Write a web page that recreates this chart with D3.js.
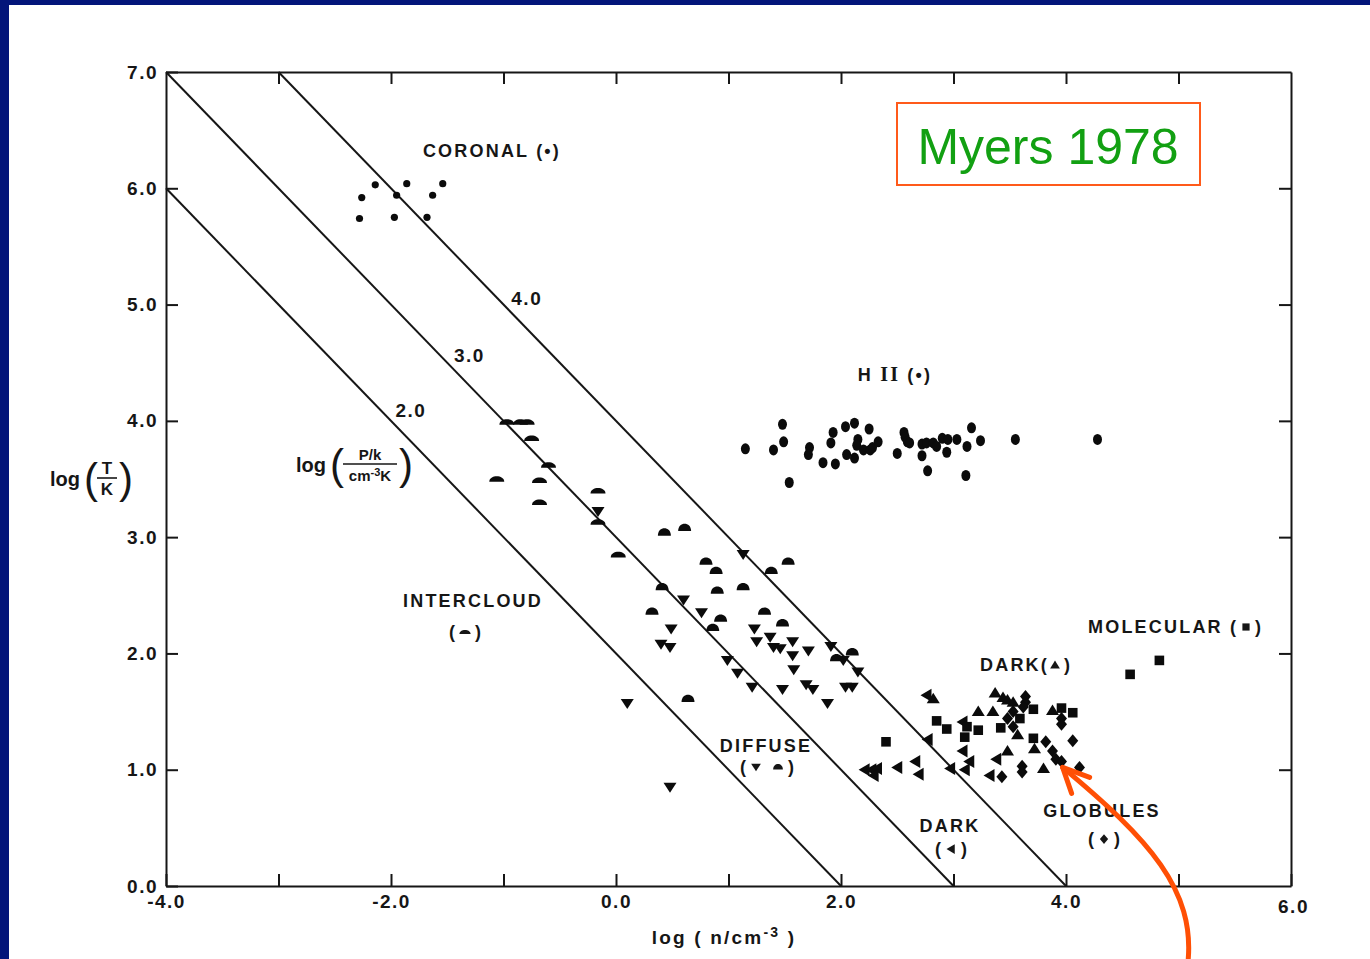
<!DOCTYPE html>
<html>
<head>
<meta charset="utf-8">
<script src="https://cdn.jsdelivr.net/npm/d3@7"></script>
<style>
  html, body { margin: 0; padding: 0; background: #fff; }
  svg { display: block; }
</style>
</head>
<body>
<svg id="chart" width="1370" height="959"></svg>
<script>
// log(n / cm^-3) and log(T / K) for each class of interstellar gas
const coronalN = [-2.14, -2.26, -2.28, -1.95, -1.97, -1.86, -1.63, -1.54, -1.68];
const coronalT = [6.03, 5.92, 5.74, 5.94, 5.75, 6.04, 5.94, 6.04, 5.75];

const hiiN = [1.15, 1.40, 1.48, 1.49, 1.54, 1.72, 1.71, 1.84, 1.95, 1.93, 1.91, 2.04, 2.12, 2.05, 2.12,
              2.15, 2.14, 2.20, 2.25, 2.26, 2.28, 2.33, 2.50, 2.56, 2.57, 2.59, 2.61, 2.72, 2.72, 2.76,
              2.77, 2.82, 2.85, 2.90, 2.94, 2.95, 3.03, 3.12, 3.16, 3.11, 3.24, 3.55, 4.28];
const hiiT = [3.76, 3.75, 3.97, 3.82, 3.47, 3.77, 3.71, 3.64, 3.63, 3.90, 3.81, 3.95, 3.98, 3.71, 3.68,
              3.84, 3.79, 3.75, 3.93, 3.75, 3.77, 3.82, 3.72, 3.90, 3.86, 3.82, 3.81, 3.80, 3.70, 3.81,
              3.57, 3.81, 3.78, 3.85, 3.73, 3.84, 3.84, 3.78, 3.94, 3.53, 3.83, 3.84, 3.84];

const intercloudN = [-0.97, -0.85, -0.79, -0.75, -0.60, -1.06, -0.68, -0.68, -0.16, -0.16, 0.02];
const intercloudT = [3.99, 3.99, 3.99, 3.85, 3.62, 3.50, 3.49, 3.30, 3.40, 3.13, 2.85];

const diffuseDomeN = [0.43, 0.61, 0.41, 0.32, 0.80, 0.89, 0.90, 0.93, 0.86, 1.13, 1.38, 1.53, 1.32, 1.48, 1.96, 2.10, 0.64];
const diffuseDomeT = [3.04, 3.08, 2.57, 2.36, 2.79, 2.71, 2.54, 2.30, 2.22, 2.57, 2.71, 2.79, 2.36, 2.26, 1.96, 2.01, 1.61];

const diffuseTriN = [0.60, 0.76, 0.49, 0.40, 0.48, 0.99, 1.08, 1.21, 1.48, 1.23, 1.25, 1.37, 1.40, 1.46, 1.57,
                     1.57, 1.58, 1.71, 1.69, 1.75, 1.88, 1.91, 2.02, 2.15, 2.04, 2.10, 0.10, 0.48, -0.16, 1.13];
const diffuseTriT = [2.46, 2.35, 2.21, 2.08, 2.05, 1.94, 1.83, 1.71, 1.69, 2.21, 2.10, 2.14, 2.05, 2.04, 2.10,
                     1.98, 1.86, 2.02, 1.73, 1.69, 1.57, 2.06, 1.94, 1.84, 1.71, 1.71, 1.57, 0.85, 3.22, 2.85];

const darkUpN = [2.82, 3.37, 3.44, 3.48, 3.53, 3.22, 3.35, 3.88, 3.57, 3.48, 3.72, 3.80];
const darkUpT = [1.61, 1.66, 1.62, 1.60, 1.58, 1.50, 1.50, 1.51, 1.30, 1.16, 1.18, 1.01];

const darkLeftN = [2.76, 3.08, 2.77, 3.08, 2.66, 3.14, 3.38, 2.21, 2.27, 2.32, 2.29, 2.50, 2.69, 2.97, 3.10, 3.32];
const darkLeftT = [1.64, 1.41, 1.26, 1.16, 1.07, 1.07, 1.09, 1.00, 1.00, 1.01, 0.95, 1.02, 0.96, 1.01, 1.00, 0.95];

const globuleN = [3.64, 3.64, 3.62, 3.53, 3.96, 3.96, 3.48, 3.53, 3.82, 4.06, 3.88, 3.91, 3.96, 3.61, 3.61, 3.43, 4.12];
const globuleT = [1.63, 1.58, 1.54, 1.50, 1.44, 1.39, 1.44, 1.37, 1.24, 1.25, 1.16, 1.09, 1.07, 1.03, 0.98, 0.94, 1.02];

const molecularN = [3.71, 3.96, 4.06, 3.59, 2.85, 3.12, 2.94, 3.22, 3.42, 3.10, 2.40, 3.71, 4.57, 4.83];
const molecularT = [1.52, 1.53, 1.49, 1.44, 1.42, 1.37, 1.35, 1.34, 1.36, 1.28, 1.24, 1.27, 1.82, 1.94];

// isobars log(P/k) and where their labels sit (in log T)
const isobars = [2.0, 3.0, 4.0];
const isobarLabelT = [4.09, 4.57, 5.06];

// axis ticks
const xTicks = [-4, -3, -2, -1, 0, 1, 2, 3, 4, 5, 6];
const yTicks = [0, 1, 2, 3, 4, 5, 6, 7];

const W = 1370, H = 959;
const ink = "#161616";
const font = "'Liberation Sans', Arial, Helvetica, sans-serif";
const svg = d3.select("#chart");

svg.append("rect").attr("width", W).attr("height", H).attr("fill", "#fff");
// slide frame
svg.append("rect").attr("x", 0).attr("y", 0).attr("width", W).attr("height", 5).attr("fill", "#03157a");
svg.append("rect").attr("x", 0).attr("y", 0).attr("width", 9).attr("height", H).attr("fill", "#03157a");

const x = d3.scaleLinear().domain([-4, 6]).range([166, 1291]);
const y = d3.scaleLinear().domain([0, 7]).range([886, 72]);

function styleAxis(g) {
  g.select(".domain").attr("stroke", ink).attr("stroke-width", 2);
  g.selectAll(".tick line").attr("stroke", ink).attr("stroke-width", 2);
  g.selectAll(".tick text")
    .attr("fill", ink).attr("font-family", font).attr("font-size", 19)
    .attr("font-weight", "bold").attr("letter-spacing", "1.5px");
}

const fmt = d => d.toFixed(1);

// bottom axis with inward ticks
svg.append("g").attr("transform", `translate(0,${y(0)})`)
  .call(d3.axisBottom(x).tickValues(xTicks).tickSize(-12).tickSizeOuter(0).tickPadding(9)
    .tickFormat(d => (d % 2 === 0 ? fmt(d) : "")))
  .call(styleAxis)
  .call(g => g.selectAll(".tick text").filter(d => d === 6).attr("dy", "0.95em").attr("dx", "2"));

// left axis
svg.append("g").attr("transform", `translate(${x(-4)},0)`)
  .call(d3.axisLeft(y).tickValues(yTicks).tickSize(-12).tickSizeOuter(0).tickPadding(8).tickFormat(fmt))
  .call(styleAxis);

// top and right frame
svg.append("g").attr("transform", `translate(0,${y(7)})`)
  .call(d3.axisTop(x).tickValues(xTicks.slice(1, -1)).tickSize(-12).tickSizeOuter(0).tickFormat(""))
  .call(styleAxis);
svg.append("g").attr("transform", `translate(${x(6)},0)`)
  .call(d3.axisRight(y).tickValues(yTicks.slice(1, -1)).tickSize(-12).tickSizeOuter(0).tickFormat(""))
  .call(styleAxis);

// constant-pressure lines: log T = log(P/k) - log n
const isoG = svg.append("g");
isobars.forEach((p, i) => {
  const n0 = Math.max(-4, p - 7);
  isoG.append("line")
    .attr("x1", x(n0)).attr("y1", y(p - n0))
    .attr("x2", x(p)).attr("y2", y(0))
    .attr("stroke", ink).attr("stroke-width", 2);
  const tl = isobarLabelT[i];
  isoG.append("text")
    .attr("x", x(p - tl) + 30).attr("y", y(tl) + 7)
    .attr("text-anchor", "middle")
    .attr("font-family", font).attr("font-size", 19).attr("font-weight", "bold")
    .attr("fill", ink).attr("letter-spacing", "1.5px")
    .text(fmt(p));
});

// marker shapes
const shapes = {
  coronal: "M3.6,0A3.6,3.6 0 1 1 -3.6,0A3.6,3.6 0 1 1 3.6,0Z",
  hii: "M4.5,0A4.5,5.5 0 1 1 -4.5,0A4.5,5.5 0 1 1 4.5,0Z",
  dash: "M-7.5,2.8 C-7.5,-4.6 7.5,-4.6 7.5,2.8 Z",
  dome: "M-6.5,3.2 C-6.5,-6.6 6.5,-6.6 6.5,3.2 Z",
  down: "M-6.5,-4.5 L6.5,-4.5 L0,5.5 Z",
  up: "M-6.5,4.5 L6.5,4.5 L0,-6 Z",
  left: "M5,-6.5 L5,6.5 L-6,0 Z",
  diamond: "M0,-6.5 L5.5,0 L0,6.5 L-5.5,0 Z",
  square: "M-4.8,-4.8 H4.8 V4.8 H-4.8 Z"
};

const series = [
  { n: coronalN, t: coronalT, shape: "coronal" },
  { n: hiiN, t: hiiT, shape: "hii" },
  { n: intercloudN, t: intercloudT, shape: "dash" },
  { n: diffuseDomeN, t: diffuseDomeT, shape: "dome" },
  { n: diffuseTriN, t: diffuseTriT, shape: "down" },
  { n: darkUpN, t: darkUpT, shape: "up" },
  { n: darkLeftN, t: darkLeftT, shape: "left" },
  { n: globuleN, t: globuleT, shape: "diamond" },
  { n: molecularN, t: molecularT, shape: "square" }
];

const ptsG = svg.append("g");
series.forEach(s => {
  ptsG.selectAll(null)
    .data(s.n.map((v, i) => [v, s.t[i]]))
    .join("path")
    .attr("transform", d => `translate(${x(d[0])},${y(d[1])})`)
    .attr("d", shapes[s.shape])
    .attr("fill", "#0b0b0b");
});

// class labels
const lab = svg.append("g").attr("font-family", font).attr("font-weight", "bold")
  .attr("font-size", 18).attr("fill", ink).attr("letter-spacing", "2.2px").attr("text-anchor", "middle");

function label(txt, cx, by) {
  return lab.append("text").attr("x", cx).attr("y", by).text(txt);
}
function keyLabel(cx, by, shapeList, gap) {
  // "( sym sym )"
  const g2 = gap || 6;
  const w = shapeList.length * 14 + (shapeList.length - 1) * g2;
  lab.append("text").attr("x", cx - w / 2 - 5).attr("y", by).text("(");
  lab.append("text").attr("x", cx + w / 2 + 7).attr("y", by).text(")");
  shapeList.forEach((sh, i) => {
    const sx = cx - w / 2 + 7 + i * (14 + g2);
    lab.append("path").attr("transform", `translate(${sx},${by - 6}) scale(0.75)`)
      .attr("d", shapes[sh]).attr("fill", ink);
  });
}

label("CORONAL (•)", 492, 157);

const hiiLab = lab.append("text").attr("x", 895).attr("y", 381);
hiiLab.append("tspan").text("H ");
hiiLab.append("tspan").attr("font-family", "'Liberation Serif', 'Times New Roman', serif").attr("font-size", 20).text("II");
hiiLab.append("tspan").text(" (•)");

label("INTERCLOUD", 473, 607);
keyLabel(465, 638, ["dash"]);

label("DIFFUSE", 766, 752);
keyLabel(767, 773, ["down", "dome"], 8);

label("DARK", 950, 832);
keyLabel(951, 855, ["left"]);

label("GLOBULES", 1102, 817);
keyLabel(1104, 845, ["diamond"]);

// DARK( ▲ )
lab.append("text").attr("text-anchor", "start").attr("x", 980).attr("y", 671).text("DARK(");
lab.append("path").attr("transform", `translate(1055,665) scale(0.75)`).attr("d", shapes.up).attr("fill", ink);
lab.append("text").attr("text-anchor", "start").attr("x", 1064).attr("y", 671).text(")");

// MOLECULAR ( ■ )
lab.append("text").attr("text-anchor", "start").attr("x", 1088).attr("y", 633).text("MOLECULAR (");
lab.append("path").attr("transform", `translate(1246,627) scale(0.75)`).attr("d", shapes.square).attr("fill", ink);
lab.append("text").attr("text-anchor", "start").attr("x", 1255).attr("y", 633).text(")");

// axis titles
const titles = svg.append("g").attr("font-family", font).attr("font-weight", "bold").attr("fill", ink);

const xt = titles.append("text").attr("x", 724).attr("y", 944).attr("text-anchor", "middle")
  .attr("font-size", 19).attr("letter-spacing", "2.2px");
xt.append("tspan").text("log ( n/cm");
xt.append("tspan").attr("dy", -7).attr("font-size", 14).text("-3");
xt.append("tspan").attr("dy", 7).text(" )");

function fracLabel(g, lx, cy, top, bottomParts, fs, barW) {
  // log( top / bottom ) with tall parentheses
  g.append("text").attr("x", lx).attr("y", cy + 6).attr("font-size", 20).text("log");
  const px = lx + 34;
  g.append("text").attr("x", px).attr("y", cy + 13).attr("font-size", 42).attr("font-weight", "normal").text("(");
  const fx = px + 13 + barW / 2;
  g.append("line").attr("x1", fx - barW / 2).attr("x2", fx + barW / 2).attr("y1", cy - 2).attr("y2", cy - 2)
    .attr("stroke", ink).attr("stroke-width", 1.6);
  g.append("text").attr("x", fx).attr("y", cy - 6).attr("text-anchor", "middle").attr("font-size", fs).text(top);
  const b = g.append("text").attr("x", fx).attr("y", cy + 15).attr("text-anchor", "middle").attr("font-size", fs);
  bottomParts(b);
  g.append("text").attr("x", fx + barW / 2 + 2).attr("y", cy + 13).attr("font-size", 42).attr("font-weight", "normal").text(")");
}

fracLabel(titles, 50, 480, "T", b => b.text("K"), 17, 20);
fracLabel(titles, 296, 466, "P/k", b => {
  b.append("tspan").text("cm");
  b.append("tspan").attr("dy", -5).attr("font-size", 11).text("-3");
  b.append("tspan").attr("dy", 5).text("K");
}, 15, 54);

// reference tag
svg.append("rect").attr("x", 897).attr("y", 103).attr("width", 303).attr("height", 82)
  .attr("fill", "none").attr("stroke", "#ff5a1a").attr("stroke-width", 2);
svg.append("text").attr("x", 1048).attr("y", 164).attr("text-anchor", "middle")
  .attr("font-family", "'Liberation Sans', Arial, sans-serif").attr("font-size", 50)
  .attr("fill", "#12a012").text("Myers 1978");

// arrow pointing to the globules
const tipX = x(3.97), tipY = y(1.02);
const ap = d3.path();
ap.moveTo(1188, 962);
ap.bezierCurveTo(1195, 890, 1150, 840, tipX, tipY);
const arrowG = svg.append("g").attr("fill", "none").attr("stroke", "#ff4f05")
  .attr("stroke-width", 5).attr("stroke-linecap", "round").attr("stroke-linejoin", "round");
arrowG.append("path").attr("d", ap.toString());
arrowG.append("path").attr("d", `M${tipX + 9},${tipY + 26} L${tipX},${tipY} L${tipX + 27},${tipY + 10}`);
</script>
</body>
</html>
